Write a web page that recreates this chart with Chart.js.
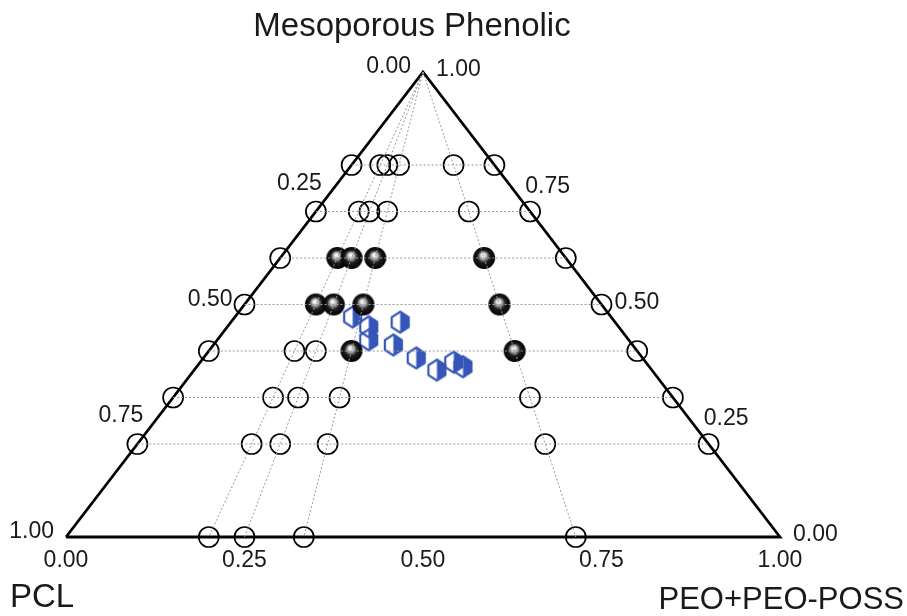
<!DOCTYPE html>
<html>
<head>
<meta charset="utf-8">
<script src="https://cdn.jsdelivr.net/npm/chart.js@4.4.0/dist/chart.umd.min.js"></script>
<style>
  body { margin: 0; background: #fff; }
  canvas { display: block; }
</style>
</head>
<body>
<canvas id="ternary" width="907" height="616"></canvas>
<script>
// Grid points are [phenolic fraction, PEO share of the PCL + PEO remainder]
const rowLevels = [0.2, 0.3, 0.4, 0.5, 0.6, 0.7, 0.8];
const rayRatios = [0.2, 0.25, 0.333, 0.714];
const tickValues = [0, 0.25, 0.5, 0.75, 1];
const tickText = ['0.00', '0.25', '0.50', '0.75', '1.00'];

// open circles
const openPhenolic = [0.8, 0.8, 0.8, 0.8, 0.8, 0.8,
                      0.7, 0.7, 0.7, 0.7, 0.7, 0.7,
                      0.6, 0.6,
                      0.5, 0.5,
                      0.4, 0.4, 0.4, 0.4,
                      0.3, 0.3, 0.3, 0.3, 0.3, 0.3,
                      0.2, 0.2, 0.2, 0.2, 0.2, 0.2,
                      0, 0, 0, 0];
const openRatio = [0, 0.2, 0.25, 0.333, 0.714, 1,
                   0, 0.2, 0.25, 0.333, 0.714, 1,
                   0, 1,
                   0, 1,
                   0, 0.2, 0.25, 1,
                   0, 0.2, 0.25, 0.333, 0.714, 1,
                   0, 0.2, 0.25, 0.333, 0.714, 1,
                   0.2, 0.25, 0.333, 0.714];

// filled spheres
const solidPhenolic = [0.6, 0.6, 0.6, 0.6, 0.5, 0.5, 0.5, 0.5, 0.4, 0.4];
const solidRatio = [0.2, 0.25, 0.333, 0.714, 0.2, 0.25, 0.333, 0.714, 0.333, 0.714];

// blue hexagon markers, [phenolic, PEO] fractions
const hexPhenolic = [0.473, 0.452, 0.424, 0.462, 0.413, 0.385, 0.359, 0.376, 0.366];
const hexPeo = [0.165, 0.198, 0.212, 0.237, 0.252, 0.298, 0.340, 0.355, 0.373];

// ternary composition -> cartesian (PEO to the right, phenolic up)
function toXY(phenolic, peo) {
  return { x: peo + phenolic / 2, y: phenolic };
}
function fromRatio(phenolic, ratio) {
  return toXY(phenolic, ratio * (1 - phenolic));
}

function makeSphere(r) {
  const c = document.createElement('canvas');
  c.width = c.height = 2 * r + 2;
  const g = c.getContext('2d');
  const cx = r + 1, cy = r + 1;
  const grad = g.createRadialGradient(cx - 1, cy - 3, 0.5, cx, cy, r);
  grad.addColorStop(0, '#ffffff');
  grad.addColorStop(0.22, '#c8c8c8');
  grad.addColorStop(0.55, '#1e1e1e');
  grad.addColorStop(1, '#000');
  g.fillStyle = grad;
  g.beginPath();
  g.arc(cx, cy, r, 0, Math.PI * 2);
  g.fill();
  return c;
}

function makeHex(w, h, color) {
  const c = document.createElement('canvas');
  c.width = w + 4;
  c.height = h + 4;
  const g = c.getContext('2d');
  const L = 2, R = w + 2, T = 2, B = h + 2, M = (L + R) / 2;
  const q1 = T + h * 0.27, q2 = B - h * 0.27;
  g.fillStyle = color;
  g.beginPath();
  g.moveTo(M, T); g.lineTo(R, q1); g.lineTo(R, q2); g.lineTo(M, B);
  g.closePath();
  g.fill();
  g.strokeStyle = color;
  g.lineWidth = 2.2;
  g.lineJoin = 'miter';
  g.beginPath();
  g.moveTo(M, T); g.lineTo(R, q1); g.lineTo(R, q2); g.lineTo(M, B);
  g.lineTo(L, q2); g.lineTo(L, q1); g.closePath();
  g.stroke();
  return c;
}

const guideStyle = {
  type: 'line', showLine: true, pointRadius: 0, borderColor: '#9a9a9a',
  borderWidth: 1, borderDash: [2, 2], fill: false, clip: false
};

const datasets = [];
rowLevels.forEach(p => {
  datasets.push(Object.assign({ data: [fromRatio(p, 0), fromRatio(p, 1)] }, guideStyle));
});
rayRatios.forEach(r => {
  datasets.push(Object.assign({ data: [fromRatio(1, r), fromRatio(0, r)] }, guideStyle));
});

// outline of the triangle
datasets.push({
  type: 'line', showLine: true, pointRadius: 0, borderColor: '#000',
  borderWidth: 2.8, fill: false, clip: false, borderJoinStyle: 'miter',
  data: [fromRatio(0, 0), fromRatio(0, 1), fromRatio(1, 0), fromRatio(0, 0)]
});

datasets.push({
  type: 'scatter', clip: false,
  data: openPhenolic.map((p, i) => fromRatio(p, openRatio[i])),
  pointRadius: 10, pointBorderColor: '#000', pointBorderWidth: 1.7,
  pointBackgroundColor: 'rgba(0,0,0,0)'
});

datasets.push({
  type: 'scatter', clip: false,
  data: solidPhenolic.map((p, i) => fromRatio(p, solidRatio[i])),
  pointStyle: makeSphere(11), pointRadius: 11
});

datasets.push({
  type: 'scatter', clip: false,
  data: hexPhenolic.map((p, i) => toXY(p, hexPeo[i])),
  pointStyle: makeHex(17, 21, '#3556b8'), pointRadius: 11
});

const FONT = '"Liberation Sans", Arial, sans-serif';

const labelPlugin = {
  id: 'ternaryLabels',
  afterDraw(chart) {
    const { ctx, scales: { x, y } } = chart;
    const px = pt => [x.getPixelForValue(pt.x), y.getPixelForValue(pt.y)];
    ctx.save();
    ctx.fillStyle = '#1a1a1a';
    ctx.textBaseline = 'middle';
    ctx.textAlign = 'center';
    ctx.font = '23px ' + FONT;

    tickValues.forEach((v, i) => {
      // PCL along the left edge, 0 at the apex
      let [a, b] = px(fromRatio(1 - v, 0));
      ctx.textAlign = 'right';
      ctx.fillText(tickText[i], a - 12, b - 5);
      // phenolic along the right edge
      [a, b] = px(fromRatio(v, 1));
      ctx.textAlign = 'left';
      ctx.fillText(tickText[i], a + 13, b - 2);
      // PEO along the base
      [a, b] = px(fromRatio(0, v));
      ctx.textAlign = 'center';
      ctx.fillText(tickText[i], a, b + 24);
    });

    ctx.font = '33px ' + FONT;
    ctx.textAlign = 'center';
    ctx.fillText('Mesoporous Phenolic', 412, 27);
    ctx.textAlign = 'left';
    ctx.fillText('PCL', 10, 598);
    ctx.font = '31px ' + FONT;
    ctx.textAlign = 'right';
    ctx.fillText('PEO+PEO-POSS', 904, 600);
    ctx.restore();
  }
};

new Chart(document.getElementById('ternary'), {
  type: 'scatter',
  data: { datasets: datasets },
  options: {
    responsive: false,
    animation: false,
    layout: { padding: { left: 66, right: 127, top: 72, bottom: 79 } },
    plugins: { legend: { display: false }, tooltip: { enabled: false } },
    scales: {
      x: { type: 'linear', min: 0, max: 1, display: false },
      y: { type: 'linear', min: 0, max: 1, display: false }
    }
  },
  plugins: [labelPlugin]
});
</script>
</body>
</html>
